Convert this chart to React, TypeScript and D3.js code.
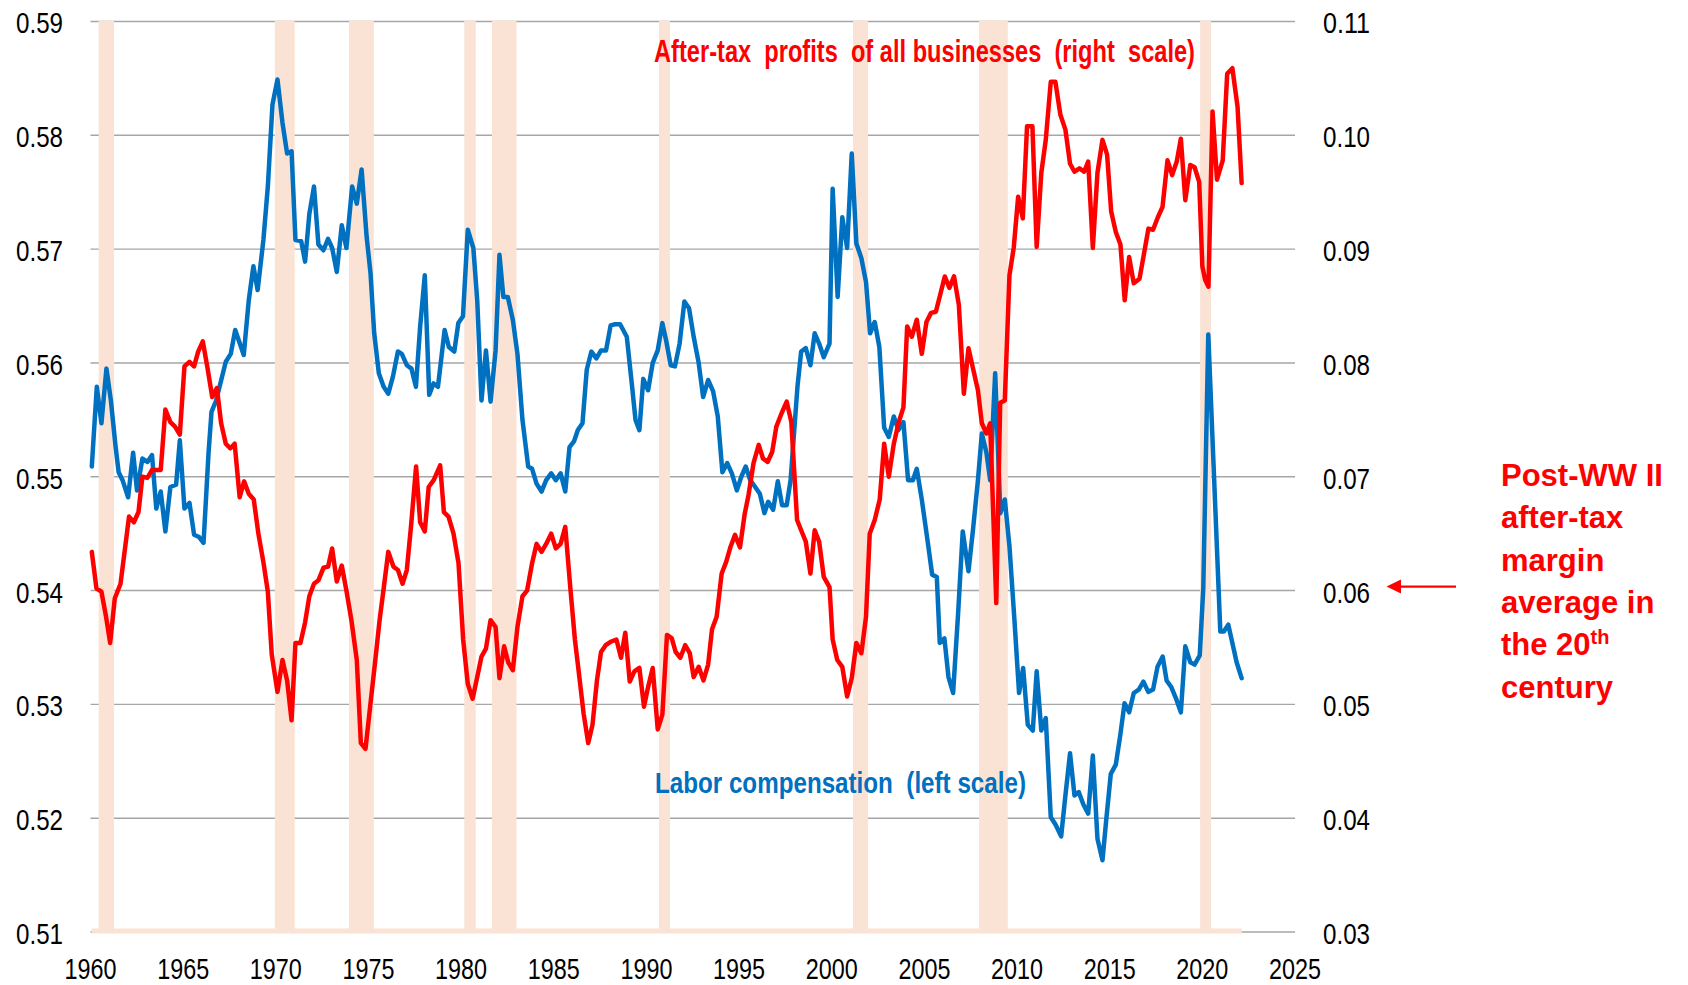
import React from 'react';
import * as d3 from 'd3';

const yearTicks = [1960, 1965, 1970, 1975, 1980, 1985, 1990, 1995, 2000, 2005, 2010, 2015, 2020, 2025];
const leftTicks = [0.51, 0.52, 0.53, 0.54, 0.55, 0.56, 0.57, 0.58, 0.59];
const rightTicks = [0.03, 0.04, 0.05, 0.06, 0.07, 0.08, 0.09, 0.10, 0.11];

const recessions: [number, number][] = [
  [1960.44, 1961.27], [1969.95, 1971.02], [1973.95, 1975.29], [1980.17, 1980.79],
  [1981.66, 1982.99], [1990.68, 1991.27], [2001.15, 2001.96], [2007.95, 2009.5],
  [2019.88, 2020.47],
];

const laborComp: [number, number][] = [
  [1960.07, 0.5509], [1960.34, 0.5579], [1960.59, 0.5547], [1960.86, 0.5595], [1961.1, 0.5567],
  [1961.35, 0.5527], [1961.52, 0.5504], [1961.73, 0.5497], [1962.03, 0.5482], [1962.3, 0.5521],
  [1962.51, 0.5488], [1962.8, 0.5516], [1963.07, 0.5513], [1963.32, 0.5519], [1963.55, 0.5472],
  [1963.79, 0.5487], [1964.04, 0.5452], [1964.31, 0.5491], [1964.62, 0.5493], [1964.82, 0.5532],
  [1965.07, 0.5472], [1965.34, 0.5477], [1965.59, 0.5449], [1965.86, 0.5447], [1966.1, 0.5442],
  [1966.37, 0.5521], [1966.53, 0.5557], [1966.78, 0.5567], [1967.3, 0.5601], [1967.57, 0.5608],
  [1967.81, 0.5629], [1968.27, 0.5607], [1968.54, 0.5655], [1968.79, 0.5685], [1969.02, 0.5664],
  [1969.33, 0.5708], [1969.57, 0.5755], [1969.82, 0.5827], [1970.09, 0.5849], [1970.36, 0.5811],
  [1970.61, 0.5784], [1970.85, 0.5786], [1971.06, 0.5708], [1971.37, 0.5707], [1971.58, 0.5689],
  [1971.81, 0.5731], [1972.06, 0.5755], [1972.3, 0.5704], [1972.57, 0.5699], [1972.82, 0.5709],
  [1973.04, 0.5701], [1973.29, 0.568], [1973.56, 0.5721], [1973.81, 0.5701], [1974.12, 0.5755],
  [1974.37, 0.574], [1974.63, 0.577], [1974.9, 0.5711], [1975.11, 0.5679], [1975.31, 0.5626],
  [1975.56, 0.5591], [1975.82, 0.5579], [1976.07, 0.5573], [1976.32, 0.5588], [1976.59, 0.561],
  [1976.8, 0.5608], [1977.07, 0.5598], [1977.32, 0.5595], [1977.56, 0.5579], [1977.79, 0.5632],
  [1978.04, 0.5677], [1978.28, 0.5572], [1978.51, 0.5582], [1978.75, 0.5579], [1979.11, 0.5629],
  [1979.34, 0.5614], [1979.63, 0.561], [1979.85, 0.5635], [1980.1, 0.5641], [1980.36, 0.5717],
  [1980.66, 0.5701], [1980.87, 0.5655], [1981.1, 0.5567], [1981.34, 0.5611], [1981.59, 0.5566],
  [1981.86, 0.5611], [1982.07, 0.5695], [1982.28, 0.5658], [1982.52, 0.5658], [1982.79, 0.5638],
  [1983.04, 0.5608], [1983.31, 0.555], [1983.62, 0.5509], [1983.83, 0.5507], [1984.07, 0.5494],
  [1984.34, 0.5487], [1984.59, 0.5497], [1984.86, 0.5503], [1985.11, 0.5497], [1985.37, 0.5503],
  [1985.62, 0.5487], [1985.85, 0.5526], [1986.09, 0.5531], [1986.3, 0.5541], [1986.55, 0.5547],
  [1986.78, 0.5594], [1987.03, 0.561], [1987.3, 0.5604], [1987.55, 0.5611], [1987.82, 0.5611],
  [1988.07, 0.5633], [1988.31, 0.5634], [1988.58, 0.5634], [1988.94, 0.5623], [1989.21, 0.5582],
  [1989.41, 0.555], [1989.62, 0.5541], [1989.83, 0.5586], [1990.09, 0.5576], [1990.34, 0.56],
  [1990.61, 0.5611], [1990.86, 0.5635], [1991.06, 0.562], [1991.31, 0.5598], [1991.54, 0.5597],
  [1991.79, 0.5617], [1992.05, 0.5654], [1992.3, 0.5648], [1992.55, 0.5623], [1992.82, 0.56],
  [1993.06, 0.557], [1993.33, 0.5585], [1993.6, 0.5575], [1993.85, 0.5553], [1994.1, 0.5504],
  [1994.36, 0.5512], [1994.61, 0.5503], [1994.88, 0.5488], [1995.12, 0.55], [1995.36, 0.5509],
  [1995.6, 0.5497], [1995.87, 0.5491], [1996.12, 0.5485], [1996.37, 0.5468], [1996.57, 0.5478],
  [1996.84, 0.5471], [1997.09, 0.5496], [1997.32, 0.5475], [1997.57, 0.5475], [1997.78, 0.5497],
  [1998.15, 0.5579], [1998.35, 0.561], [1998.6, 0.5613], [1998.85, 0.5598], [1999.08, 0.5626],
  [1999.32, 0.5617], [1999.57, 0.5605], [1999.88, 0.5617], [2000.05, 0.5753], [2000.32, 0.5658],
  [2000.57, 0.5728], [2000.83, 0.5701], [2001.08, 0.5784], [2001.33, 0.5705], [2001.6, 0.5692],
  [2001.85, 0.5671], [2002.07, 0.5626], [2002.32, 0.5636], [2002.57, 0.5614], [2002.83, 0.5543],
  [2003.08, 0.5535], [2003.35, 0.5553], [2003.6, 0.5541], [2003.87, 0.5548], [2004.12, 0.5497],
  [2004.38, 0.5497], [2004.59, 0.5507], [2004.86, 0.548], [2005.17, 0.5444], [2005.42, 0.5414],
  [2005.67, 0.5412], [2005.83, 0.5354], [2006.08, 0.5358], [2006.3, 0.5324], [2006.55, 0.531],
  [2006.82, 0.538], [2007.07, 0.5452], [2007.38, 0.5417], [2007.62, 0.5453], [2007.89, 0.5497],
  [2008.1, 0.5538], [2008.35, 0.5521], [2008.55, 0.5497], [2008.82, 0.5591], [2009.1, 0.5468],
  [2009.34, 0.548], [2009.59, 0.5439], [2009.86, 0.5374], [2010.11, 0.531], [2010.33, 0.5332],
  [2010.58, 0.5282], [2010.85, 0.5277], [2011.06, 0.5329], [2011.31, 0.5277], [2011.55, 0.5288],
  [2011.82, 0.5201], [2012.09, 0.5194], [2012.38, 0.5184], [2012.61, 0.522], [2012.86, 0.5257],
  [2013.1, 0.522], [2013.33, 0.5223], [2013.58, 0.5212], [2013.84, 0.5204], [2014.09, 0.5255],
  [2014.34, 0.5182], [2014.61, 0.5163], [2014.81, 0.5198], [2015.06, 0.5239], [2015.33, 0.5247],
  [2015.58, 0.5274], [2015.8, 0.5301], [2016.05, 0.5293], [2016.3, 0.531], [2016.57, 0.5313],
  [2016.82, 0.532], [2017.08, 0.5311], [2017.34, 0.5313], [2017.58, 0.5333], [2017.86, 0.5342],
  [2018.07, 0.5321], [2018.33, 0.5315], [2018.56, 0.5306], [2018.84, 0.5293], [2019.08, 0.5351],
  [2019.35, 0.5337], [2019.58, 0.5335], [2019.86, 0.5343], [2020.05, 0.5402], [2020.32, 0.5625],
  [2020.97, 0.5364], [2021.16, 0.5364], [2021.4, 0.537], [2021.62, 0.5354], [2021.85, 0.5337],
  [2022.12, 0.5323],
];

const profits: [number, number][] = [
  [1960.07, 0.0634], [1960.32, 0.0602], [1960.59, 0.0599], [1960.84, 0.0577], [1961.06, 0.0554],
  [1961.31, 0.0593], [1961.62, 0.0606], [1961.87, 0.0638], [1962.08, 0.0665], [1962.34, 0.066],
  [1962.59, 0.0669], [1962.8, 0.07], [1963.07, 0.0699], [1963.32, 0.0706], [1963.55, 0.0706],
  [1963.79, 0.0706], [1964.04, 0.0759], [1964.31, 0.0748], [1964.56, 0.0744], [1964.82, 0.0737],
  [1965.07, 0.0797], [1965.34, 0.0801], [1965.59, 0.0797], [1965.81, 0.081], [1966.06, 0.0819],
  [1966.32, 0.0795], [1966.57, 0.077], [1966.82, 0.0778], [1967.05, 0.0747], [1967.3, 0.0729],
  [1967.55, 0.0725], [1967.78, 0.0729], [1968.05, 0.0682], [1968.29, 0.0696], [1968.54, 0.0685],
  [1968.81, 0.068], [1969.06, 0.065], [1969.33, 0.0625], [1969.57, 0.0599], [1969.78, 0.0544],
  [1970.09, 0.0511], [1970.36, 0.0539], [1970.61, 0.0521], [1970.85, 0.0486], [1971.06, 0.0554],
  [1971.33, 0.0554], [1971.58, 0.0572], [1971.81, 0.0595], [1972.06, 0.0606], [1972.3, 0.0609],
  [1972.57, 0.062], [1972.82, 0.0621], [1973.04, 0.0637], [1973.29, 0.0608], [1973.56, 0.0622],
  [1973.81, 0.06], [1974.08, 0.0574], [1974.37, 0.0539], [1974.59, 0.0466], [1974.84, 0.0461],
  [1975.09, 0.0498], [1975.35, 0.0536], [1975.6, 0.0574], [1975.83, 0.0603], [1976.07, 0.0634],
  [1976.35, 0.0621], [1976.59, 0.0618], [1976.84, 0.0606], [1977.07, 0.0618], [1977.31, 0.0659],
  [1977.57, 0.0709], [1977.79, 0.066], [1978.04, 0.0652], [1978.25, 0.0691], [1978.52, 0.0697],
  [1978.87, 0.071], [1979.07, 0.0669], [1979.32, 0.0665], [1979.59, 0.065], [1979.86, 0.0624],
  [1980.11, 0.0557], [1980.36, 0.0518], [1980.62, 0.0505], [1980.87, 0.0524], [1981.1, 0.0542],
  [1981.34, 0.0549], [1981.59, 0.0574], [1981.86, 0.0568], [1982.07, 0.0523], [1982.32, 0.0551],
  [1982.54, 0.0537], [1982.79, 0.053], [1983.04, 0.0568], [1983.31, 0.0595], [1983.56, 0.06],
  [1983.83, 0.0624], [1984.07, 0.0641], [1984.34, 0.0634], [1984.59, 0.0641], [1984.86, 0.065],
  [1985.11, 0.0637], [1985.37, 0.0641], [1985.62, 0.0656], [1985.89, 0.0603], [1986.14, 0.0557],
  [1986.36, 0.0527], [1986.61, 0.0492], [1986.86, 0.0466], [1987.09, 0.0482], [1987.33, 0.0521],
  [1987.55, 0.0546], [1987.8, 0.0552], [1988.07, 0.0555], [1988.38, 0.0557], [1988.63, 0.0541],
  [1988.86, 0.0563], [1989.1, 0.052], [1989.35, 0.0529], [1989.62, 0.0532], [1989.87, 0.0498],
  [1990.1, 0.0516], [1990.34, 0.0532], [1990.61, 0.0478], [1990.86, 0.0491], [1991.11, 0.0561],
  [1991.37, 0.0558], [1991.58, 0.0546], [1991.83, 0.0541], [1992.09, 0.0552], [1992.34, 0.0545],
  [1992.55, 0.0524], [1992.82, 0.0533], [1993.08, 0.0521], [1993.33, 0.0535], [1993.54, 0.0566],
  [1993.79, 0.0577], [1994.06, 0.0615], [1994.3, 0.0625], [1994.53, 0.0638], [1994.78, 0.0649],
  [1995.05, 0.0638], [1995.3, 0.0667], [1995.51, 0.0684], [1995.78, 0.0712], [1996.06, 0.0728],
  [1996.29, 0.0716], [1996.54, 0.0713], [1996.79, 0.0722], [1997.01, 0.0744], [1997.3, 0.0756],
  [1997.57, 0.0766], [1997.82, 0.0748], [1998.13, 0.0662], [1998.35, 0.0653], [1998.6, 0.0643],
  [1998.85, 0.0615], [1999.08, 0.0653], [1999.32, 0.0643], [1999.57, 0.0612], [1999.88, 0.0603],
  [2000.05, 0.0557], [2000.3, 0.0539], [2000.57, 0.0533], [2000.83, 0.0507], [2001.08, 0.0523],
  [2001.33, 0.0554], [2001.6, 0.0545], [2001.85, 0.0577], [2002.05, 0.065], [2002.32, 0.0662],
  [2002.59, 0.068], [2002.83, 0.0729], [2003.08, 0.07], [2003.35, 0.0729], [2003.6, 0.0747],
  [2003.87, 0.0761], [2004.07, 0.0832], [2004.32, 0.0823], [2004.59, 0.0838], [2004.86, 0.0808],
  [2005.11, 0.0836], [2005.36, 0.0844], [2005.62, 0.0845], [2005.87, 0.0861], [2006.1, 0.0876],
  [2006.35, 0.0866], [2006.6, 0.0876], [2006.86, 0.0851], [2007.13, 0.0773], [2007.38, 0.0813],
  [2007.64, 0.0794], [2007.89, 0.0776], [2008.1, 0.0747], [2008.35, 0.0738], [2008.55, 0.0747],
  [2008.88, 0.0589], [2009.09, 0.0765], [2009.34, 0.0767], [2009.59, 0.0877], [2009.82, 0.0901],
  [2010.06, 0.0946], [2010.31, 0.0927], [2010.54, 0.1008], [2010.83, 0.1008], [2011.06, 0.0902],
  [2011.31, 0.0967], [2011.55, 0.0996], [2011.82, 0.1047], [2012.07, 0.1047], [2012.34, 0.1018],
  [2012.61, 0.1005], [2012.86, 0.0975], [2013.1, 0.0968], [2013.37, 0.0971], [2013.62, 0.0968],
  [2013.84, 0.0977], [2014.09, 0.0901], [2014.34, 0.0967], [2014.61, 0.0996], [2014.86, 0.0983],
  [2015.08, 0.0933], [2015.33, 0.0915], [2015.58, 0.0904], [2015.81, 0.0855], [2016.05, 0.0893],
  [2016.3, 0.087], [2016.61, 0.0874], [2016.84, 0.0895], [2017.09, 0.0918], [2017.34, 0.0917],
  [2017.6, 0.0928], [2017.85, 0.0937], [2018.12, 0.0978], [2018.37, 0.0965], [2018.62, 0.0977],
  [2018.84, 0.0997], [2019.08, 0.0943], [2019.35, 0.0974], [2019.58, 0.0972], [2019.83, 0.0959],
  [2020.0, 0.0885], [2020.15, 0.0873], [2020.33, 0.0867], [2020.55, 0.1021], [2020.79, 0.0961],
  [2021.1, 0.0978], [2021.34, 0.1054], [2021.62, 0.1059], [2021.9, 0.1025], [2022.12, 0.0958],
];

const profitsLabel = 'After-tax  profits  of all businesses  (right  scale)';
const laborLabel = 'Labor compensation  (left scale)';
const noteLines = ['Post-WW II', 'after-tax', 'margin', 'average in', 'the 20', 'century'];
const noteSup = 'th';
const noteLevel = 0.06;

const RED = '#FF0000';
const BLUE = '#0070C0';
const PEACH = '#FAE3D4';
const GRID = '#A6A6A6';
const SANS = "'Liberation Sans', Arial, sans-serif";

export default function App() {
  const W = 1688;
  const H = 985;
  const x = d3.scaleLinear().domain([1960, 2025]).range([90.5, 1295]);
  const yL = d3.scaleLinear().domain([0.51, 0.59]).range([932, 21.5]);
  const yR = d3.scaleLinear().domain([0.03, 0.11]).range([932, 21.5]);
  const lineL = d3.line<[number, number]>().x((d) => x(d[0])).y((d) => yL(d[1]));
  const lineR = d3.line<[number, number]>().x((d) => x(d[0])).y((d) => yR(d[1]));
  const x0 = x.range()[0];
  const x1 = x.range()[1];
  const yTop = yL(0.59);
  const yBot = yL(0.51);
  const dataStart = x(laborComp[0][0]);
  const dataEnd = x(laborComp[laborComp.length - 1][0]);
  const arrowY = yR(noteLevel) - 4;

  return (
    <svg width={W} height={H} style={{ position: 'absolute', left: 0, top: 0, background: '#fff' }}>
      <rect x={0} y={0} width={W} height={H} fill="#fff" />
      {leftTicks.map((t) => (
        <line key={'g' + t} x1={x0} x2={x1} y1={yL(t)} y2={yL(t)} stroke={GRID} strokeWidth={1.4} />
      ))}
      {recessions.map(([a, b], i) => (
        <rect key={'r' + i} x={x(a)} y={yTop - 1} width={x(b) - x(a)} height={yBot - yTop + 1} fill={PEACH} />
      ))}
      <rect x={dataStart} y={yBot - 3.5} width={dataEnd - dataStart} height={5} fill={PEACH} />
      <path d={lineL(laborComp) || ''} fill="none" stroke={BLUE} strokeWidth={4.5} strokeLinejoin="round" strokeLinecap="round" />
      <path d={lineR(profits) || ''} fill="none" stroke={RED} strokeWidth={4.5} strokeLinejoin="round" strokeLinecap="round" />

      {leftTicks.map((t) => (
        <text key={'lt' + t} x={63} y={yL(t) + 1.5} dy="0.36em" textAnchor="end" fontFamily={SANS} fontSize={29} fill="#000"
          textLength={47} lengthAdjust="spacingAndGlyphs">
          {t.toFixed(2)}
        </text>
      ))}
      {rightTicks.map((t) => (
        <text key={'rt' + t} x={1323} y={yR(t) + 1.5} dy="0.36em" textAnchor="start" fontFamily={SANS} fontSize={29} fill="#000"
          textLength={47} lengthAdjust="spacingAndGlyphs">
          {t.toFixed(2)}
        </text>
      ))}
      {yearTicks.map((t) => (
        <text key={'xt' + t} x={x(t)} y={979} textAnchor="middle" fontFamily={SANS} fontSize={29} fill="#000"
          textLength={52} lengthAdjust="spacingAndGlyphs">
          {t}
        </text>
      ))}

      <text x={654} y={62} fontFamily={SANS} fontWeight="bold" fontSize={30.5} fill={RED}
        textLength={541} lengthAdjust="spacingAndGlyphs" style={{ whiteSpace: 'pre' }}>
        {profitsLabel}
      </text>
      <text x={655} y={793} fontFamily={SANS} fontWeight="bold" fontSize={29.5} fill={BLUE}
        textLength={371} lengthAdjust="spacingAndGlyphs" style={{ whiteSpace: 'pre' }}>
        {laborLabel}
      </text>

      {noteLines.map((s, i) => (
        <text key={'n' + i} x={1501} y={486 + i * 42.3} fontFamily={SANS} fontWeight="bold" fontSize={31} fill={RED}>
          {s}
          {i === 4 ? <tspan fontSize={20} dy={-11}>{noteSup}</tspan> : null}
        </text>
      ))}

      <line x1={1398} x2={1456} y1={arrowY} y2={arrowY} stroke={RED} strokeWidth={2.2} />
      <path d={`M${1386.5},${arrowY} L${1401},${arrowY - 7} L${1401},${arrowY + 7} Z`} fill={RED} />
    </svg>
  );
}
